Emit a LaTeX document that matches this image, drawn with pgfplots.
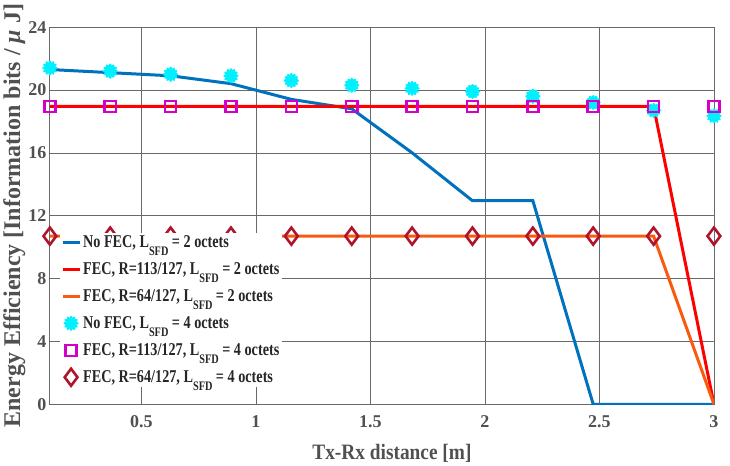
\documentclass[border=0pt]{standalone}
\usepackage{fontspec}
\setmainfont{Liberation Serif}
\newfontfamily\legfont[FakeStretch=0.79]{Liberation Serif}
\newfontfamily\labfont[FakeStretch=0.88]{Liberation Serif}
\usepackage{pgfplots}
\pgfplotsset{compat=1.18}
\usetikzlibrary{plotmarks}
\definecolor{mblue}{RGB}{0,114,189}
\definecolor{mred}{RGB}{255,0,0}
\definecolor{morange}{RGB}{250,90,15}
\definecolor{mcyan}{RGB}{0,240,255}
\definecolor{mmag}{RGB}{210,0,200}
\definecolor{mdia}{RGB}{175,20,45}
\definecolor{tgray}{RGB}{80,80,80}
\definecolor{ggray}{RGB}{105,105,105}
\newcommand{\Ls}{L\raisebox{-8bp}{\fontsize{13}{13}\selectfont SFD}}
\pgfdeclareplotmark{snow}{%
  \pgfpathcircle{\pgfpointorigin}{0.55\pgfplotmarksize}\pgfusepathqfill
  \pgfsetroundcap
  \foreach \a in {0,30,...,150}{%
    \pgfpathmoveto{\pgfpointpolar{\a}{0.85\pgfplotmarksize}}%
    \pgfpathlineto{\pgfpointpolar{\a+180}{0.85\pgfplotmarksize}}%
  }%
  \pgfusepathqstroke
}
\begin{document}
\begin{tikzpicture}
\begin{axis}[
  scale only axis, width=662bp, height=376bp,
  xmin=0.1, xmax=3, ymin=0, ymax=24,
  xtick={0.5,1,1.5,2,2.5,3}, ytick={0,4,8,12,16,20,24},
  grid=major, grid style={ggray, line width=0.6pt},
  axis line style={ggray, line width=0.8pt},
  tick align=inside, major tick length=0pt,
  /pgf/number format/assume math mode=true,
  ticklabel style={font=\bfseries\fontsize{18}{20}\selectfont, text=tgray},
  xticklabel style={yshift=-8bp},
  xlabel style={font=\labfont\bfseries\fontsize{22}{24}\selectfont, text=tgray, yshift=-9bp, xshift=10bp},
  ylabel style={font=\bfseries\fontsize{24}{26}\selectfont, text=tgray, yshift=-4bp},
  xlabel={Tx-Rx distance [m]},
  ylabel={Energy Efficiency [Information bits / \textit{μ} J]},
  legend cell align=left,
  legend style={draw=none, fill=white, at={(0.015,0.455)}, anchor=north west,
    font=\legfont\bfseries\fontsize{18}{20}\selectfont, text=black!85,
    row sep=9.5bp, inner sep=1pt},
  after end axis/.code={\path (rel axis cs:1,1) ++(16bp,27bp);},
]
\addplot[mblue, line width=3pt] coordinates {
(0.1,21.3) (0.3636,21.1) (0.6273,20.9) (0.8909,20.4) (1.1545,19.4) (1.4182,18.8)
(1.6818,16.0) (1.9455,12.95) (2.2091,12.95) (2.4727,0) (2.7364,0) (3,0)};
\addlegendentry{No FEC, \Ls{} = 2 octets}
\addplot[mred, line width=3pt] coordinates {
(0.1,18.95) (0.3636,18.95) (0.6273,18.95) (0.8909,18.95) (1.1545,18.95) (1.4182,18.95)
(1.6818,18.95) (1.9455,18.95) (2.2091,18.95) (2.4727,18.95) (2.7364,18.95) (3,0)};
\addlegendentry{FEC, R=113/127, \Ls{} = 2 octets}
\addplot[morange, line width=3pt] coordinates {
(0.1,10.7) (0.3636,10.7) (0.6273,10.7) (0.8909,10.7) (1.1545,10.7) (1.4182,10.7)
(1.6818,10.7) (1.9455,10.7) (2.2091,10.7) (2.4727,10.7) (2.7364,10.7) (3,0)};
\addlegendentry{FEC, R=64/127, \Ls{} = 2 octets}
\addplot[only marks, mark=snow, mark size=7.5bp, mark options={draw=mcyan, fill=mcyan, line width=2.6pt}] coordinates {
(0.1,21.4) (0.3636,21.2) (0.6273,21.0) (0.8909,20.9) (1.1545,20.6) (1.4182,20.3)
(1.6818,20.1) (1.9455,19.9) (2.2091,19.6) (2.4727,19.2) (2.7364,18.7) (3,18.35)};
\addlegendentry{No FEC, \Ls{} = 4 octets}
\addplot[only marks, mark=square, mark size=5.5bp, mark options={draw=mmag, line width=2.5pt}] coordinates {
(0.1,18.95) (0.3636,18.95) (0.6273,18.95) (0.8909,18.95) (1.1545,18.95) (1.4182,18.95)
(1.6818,18.95) (1.9455,18.95) (2.2091,18.95) (2.4727,18.95) (2.7364,18.95) (3,18.95)};
\addlegendentry{FEC, R=113/127, \Ls{} = 4 octets}
\addplot[only marks, mark=diamond, mark size=8.5bp, mark options={draw=mdia, line width=2.6pt}] coordinates {
(0.1,10.7) (0.3636,10.7) (0.6273,10.7) (0.8909,10.7) (1.1545,10.7) (1.4182,10.7)
(1.6818,10.7) (1.9455,10.7) (2.2091,10.7) (2.4727,10.7) (2.7364,10.7) (3,10.7)};
\addlegendentry{FEC, R=64/127, \Ls{} = 4 octets}
\end{axis}
\end{tikzpicture}
\end{document}
